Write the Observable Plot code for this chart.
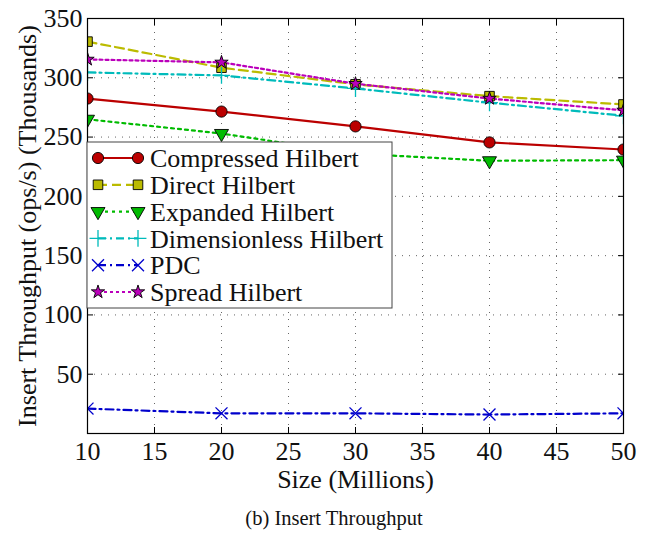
<!DOCTYPE html>
<html><head><meta charset="utf-8">
<script src="https://cdn.jsdelivr.net/npm/d3@7"></script>
<script src="https://cdn.jsdelivr.net/npm/@observablehq/plot@0.6"></script>
<style>
body{margin:0;background:#fff;font-family:"Liberation Serif","Times New Roman",serif}
#wrap{position:relative;width:651px;height:533px;overflow:hidden}
#cap{position:absolute;top:507px;left:0;width:668px;text-align:center;font-size:20.5px;color:#111}
</style>
</head><body><div id="wrap"><div id="chart"></div><div id="cap">(b) Insert Throughput</div></div>
<script>
const sizes = [10, 20, 30, 40, 50];
const compressed = [282.5, 271.5, 259, 245.5, 239.5];
const direct = [330.5, 308.5, 294.5, 284.5, 277.5];
const expanded = [265, 253, 236, 230, 230.5];
const dimensionless = [304.5, 302, 291, 279, 268];
const pdc = [21, 17, 17, 16, 17];
const spread = [315.5, 313, 295, 282.5, 272.5];
const seriesNames = ["Compressed Hilbert", "Direct Hilbert", "Expanded Hilbert", "Dimensionless Hilbert", "PDC", "Spread Hilbert"];
const xTicks = [10, 15, 20, 25, 30, 35, 40, 45, 50];
const yTicks = [50, 100, 150, 200, 250, 300, 350];
const xLabel = "Size (Millions)";
const yLabel = "Insert Throughput (ops/s) (Thousands)";

const styles = [
  {color: "#bb0000", dash: null, symbol: "circle", fill: "#bb0000", stroke: "#000", r: 5.6, rotate: 0},
  {color: "#bbbb00", dash: "9,5", symbol: "square", fill: "#bbbb00", stroke: "#000", r: 5.4, rotate: 0},
  {color: "#00bb00", dash: "3,4", symbol: "triangle", fill: "#00bb00", stroke: "#000", r: 5.2, rotate: 180},
  {color: "#00bbbb", dash: "8,4,2,4", symbol: "plus", fill: "none", stroke: "#00bbbb", r: 5.5, rotate: 0},
  {color: "#0000cc", dash: "8,4,2,4", symbol: "times", fill: "none", stroke: "#0000cc", r: 5.5, rotate: 0},
  {color: "#bb00bb", dash: "3,3", symbol: "star", fill: "#bb00bb", stroke: "#000", r: 4.2, rotate: 0}
];
const valuesList = [compressed, direct, expanded, dimensionless, pdc, spread];
const series = seriesNames.map((name, i) => ({name, values: valuesList[i], ...styles[i]}));

const marks = [
  Plot.gridX(xTicks.slice(1, -1), {stroke: "#666", strokeOpacity: 1, strokeDasharray: "1,6"}),
  Plot.gridY(yTicks.slice(0, -1), {stroke: "#666", strokeOpacity: 1, strokeDasharray: "1,6"})
];
for (const s of series) {
  const data = sizes.map((x, j) => ({x, y: s.values[j]}));
  marks.push(Plot.line(data, {x: "x", y: "y", stroke: s.color, strokeWidth: 2.2, strokeDasharray: s.dash, clip: true}));
}
for (const s of series) {
  const data = sizes.map((x, j) => ({x, y: s.values[j]}));
  marks.push(Plot.dot(data, {x: "x", y: "y", symbol: s.symbol, fill: s.fill, stroke: s.stroke, strokeWidth: s.fill === "none" ? 1.3 : 0.9, r: s.r, rotate: s.rotate, clip: true}));
}
marks.push(
  Plot.axisX({ticks: xTicks, anchor: "bottom", tickSize: 0, tickPadding: 8, label: null, fontSize: 26}),
  Plot.axisY({ticks: yTicks, anchor: "left", tickSize: 0, tickPadding: 5, label: null, fontSize: 26}),
  Plot.axisX({ticks: xTicks, anchor: "bottom", tickSize: -6, text: null, label: null, stroke: "#000"}),
  Plot.axisX({ticks: xTicks, anchor: "top", tickSize: -6, text: null, label: null, stroke: "#000"}),
  Plot.axisY({ticks: yTicks, anchor: "left", tickSize: -6, text: null, label: null, stroke: "#000"}),
  Plot.axisY({ticks: yTicks, anchor: "right", tickSize: -6, text: null, label: null, stroke: "#000"}),
  Plot.frame({stroke: "#000", strokeWidth: 1.2}),
  Plot.text([xLabel], {frameAnchor: "bottom", textAnchor: "middle", lineAnchor: "middle", dy: 46, text: d => d, fontSize: 26, fill: "#111"}),
  Plot.text([yLabel], {frameAnchor: "left", textAnchor: "middle", lineAnchor: "middle", dx: -60, rotate: -90, text: d => d, fontSize: 26, fill: "#111"})
);

const chart = Plot.plot({
  width: 651, height: 497,
  marginLeft: 87, marginRight: 28, marginTop: 18, marginBottom: 64,
  x: {domain: [10, 50]},
  y: {domain: [0, 350]},
  style: {fontFamily: "'Liberation Serif', 'Times New Roman', serif", fontSize: "26px", color: "#111", background: "#fff", overflow: "visible"},
  marks
});
document.getElementById("chart").appendChild(chart);

// Legend drawn on top
const svg = d3.select(chart);
const lg = svg.append("g");
const bx = 87, by = 142, bw = 305, bh = 166;
lg.append("rect").attr("x", bx).attr("y", by).attr("width", bw).attr("height", bh)
  .attr("fill", "#fff").attr("stroke", "#444").attr("stroke-width", 1);
const symMap = {circle: d3.symbolCircle, square: d3.symbolSquare, triangle: d3.symbolTriangle, plus: d3.symbolPlus, times: d3.symbolTimes, star: d3.symbolStar};
series.forEach((s, i) => {
  const cy = 158 + i * 26.8;
  const x1 = 98, x2 = 138;
  lg.append("line").attr("x1", x1).attr("x2", x2).attr("y1", cy).attr("y2", cy)
    .attr("stroke", s.color).attr("stroke-width", 2.2).attr("stroke-dasharray", s.dash);
  for (const x of [x1, x2]) {
    lg.append("path").attr("d", d3.symbol(symMap[s.symbol], Math.PI * s.r * s.r)())
      .attr("transform", `translate(${x},${cy}) rotate(${s.rotate})`)
      .attr("fill", s.fill).attr("stroke", s.stroke).attr("stroke-width", s.fill === "none" ? 1.3 : 0.9);
  }
  lg.append("text").attr("x", 150).attr("y", cy).attr("dy", "0.35em")
    .attr("text-anchor", "start").attr("font-size", 26).attr("fill", "#111").text(s.name);
});
</script>
</body></html>
